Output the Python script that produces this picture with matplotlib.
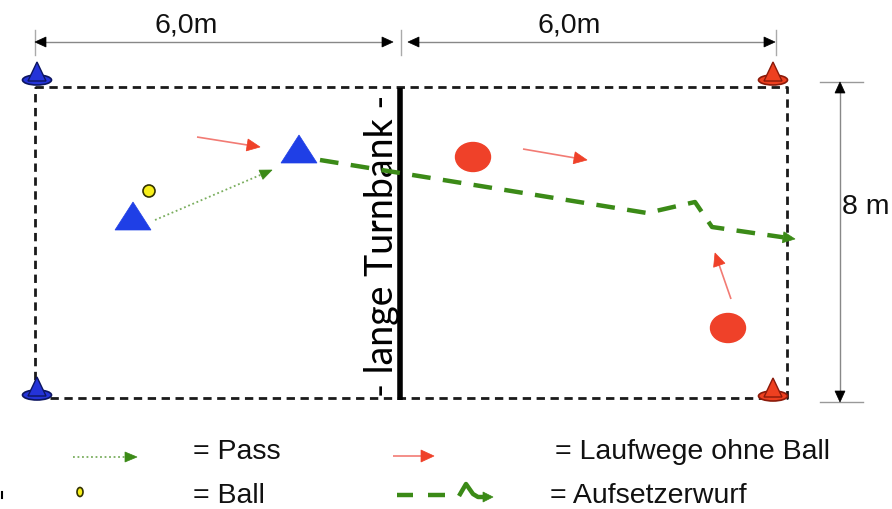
import matplotlib
matplotlib.use("Agg")
import matplotlib.pyplot as plt
from matplotlib.patches import Ellipse, Polygon
import numpy as np

# ---- data (diagram coordinates in pixel units, y downward) ----
field_x = [35, 787]
field_y = [87, 398]
bench_x = 400
bench_y = [88, 400]
bench_label = "- lange Turnbank -"

dim_top_y = 42
dim_top_ticks = [35, 401, 776]
dim_top_segments = [(35, 393), (408, 775)]
dim_top_labels = ["6,0m", "6,0m"]
dim_top_label_x = [186, 569]

dim_right_x = 840
dim_right_y = [82, 402]
dim_right_tick_x = [820, 863]
dim_right_label = "8 m"

blue_cones = [(37, 80), (37, 395)]
red_cones = [(773, 80), (773, 396)]

blue_players = [(133, 216), (299, 149)]
red_players = [(473, 157), (728, 328)]
ball = (149, 191)

pass_path = [(155, 220), (272, 170)]
run_paths = [[(197, 137), (260, 147)],
             [(523, 149), (587, 160)],
             [(731, 299), (715, 253)]]
throw_x = [320, 647, 695, 712, 795]
throw_y = [160, 213, 202, 227, 239]

legend_texts = ["= Pass", "= Ball", "= Laufwege ohne Ball", "= Aufsetzerwurf"]
legend_text_pos = [(193, 452), (193, 496), (555, 452), (550, 496)]
legend_pass = [(73, 457), (137, 457)]
legend_run = [(393, 456), (434, 456)]
legend_ball = (80, 492)
legend_throw_x = [397, 413, 428, 445, 459, 466, 473, 478, 493]
legend_throw_y = [495, 495, 495, 495, 496, 484, 494, 497, 497]

# ---- colours ----
BLUE = "#1f3fe6"
RED = "#ef4129"
RED_LINE = "#f27b74"
GREEN = "#3b8a17"
PASS_GREEN = "#7aae5e"
YELLOW = "#f7ef1a"

W, H = 892, 509
fig = plt.figure(figsize=(W / 100, H / 100), dpi=100)
ax = fig.add_axes([0, 0, 1, 1])
ax.set_xlim(0, W)
ax.set_ylim(H, 0)
ax.axis("off")


def head(tip, tail, length, width, color, z=6):
    tip = np.asarray(tip, float)
    d = tip - np.asarray(tail, float)
    d /= np.hypot(*d)
    n = np.array([-d[1], d[0]])
    base = tip - d * length
    ax.add_patch(Polygon([tip, base + n * width / 2, base - n * width / 2], closed=True,
                         facecolor=color, edgecolor=color, lw=0.5, zorder=z))
    return base


def arrow(p0, p1, line_color, head_color, lw, hl, hw, ls="-", z=6):
    base = head(p1, p0, hl, hw, head_color, z)
    ax.plot([p0[0], base[0] + (p1[0] - base[0]) * 0.2], [p0[1], base[1] + (p1[1] - base[1]) * 0.2],
            color=line_color, lw=lw, linestyle=ls, zorder=z - 0.5, solid_capstyle="butt")


# field
ax.plot([field_x[0], field_x[1], field_x[1], field_x[0], field_x[0]],
        [field_y[0], field_y[0], field_y[1], field_y[1], field_y[0]],
        color="#1a1a1a", lw=2.0, linestyle=(0, (3.0, 2.0)), zorder=2)

# bench
ax.plot([bench_x, bench_x], bench_y, color="black", lw=4, solid_capstyle="butt", zorder=3)
ax.text(382, (bench_y[0] + bench_y[1]) / 2 + 2, bench_label, rotation=90,
        ha="center", va="center", fontsize=27, family="Lato", color="black", zorder=4)

# top dimensions
for tx in dim_top_ticks:
    ax.plot([tx, tx], [30, 55], color="#aaaaaa", lw=1)
for (a, b) in dim_top_segments:
    ax.plot([a + 5, b - 5], [dim_top_y, dim_top_y], color="#888888", lw=1)
    head((b, dim_top_y), (a, dim_top_y), 11, 10, "black")
    head((a, dim_top_y), (b, dim_top_y), 11, 10, "black")
for lx, lab in zip(dim_top_label_x, dim_top_labels):
    ax.text(lx, 25, lab, ha="center", va="center", fontsize=20.5,
            family="Liberation Sans", color="#111111")

# right dimension
for ty in dim_right_y:
    ax.plot(dim_right_tick_x, [ty, ty], color="#999999", lw=1)
ax.plot([dim_right_x, dim_right_x], [dim_right_y[0] + 5, dim_right_y[1] - 5], color="#888888", lw=1)
head((dim_right_x, dim_right_y[0]), (dim_right_x, dim_right_y[1]), 11, 10, "black")
head((dim_right_x, dim_right_y[1]), (dim_right_x, dim_right_y[0]), 11, 10, "black")
ax.text(842, 207, dim_right_label, ha="left", va="center", fontsize=20.5,
        family="Liberation Sans", color="#111111")


def cone(x, y, face, edge):
    ax.add_patch(Ellipse((x, y), 29, 10, facecolor=face, edgecolor=edge, lw=1.2, zorder=5))
    ax.add_patch(Polygon([(x - 9, y + 1), (x + 9, y + 1), (x, y - 18)], closed=True,
                         facecolor=face, edgecolor=edge, lw=1.0, zorder=6))


for (x, y) in blue_cones:
    cone(x, y, "#2433d8", "#0c1560")
for (x, y) in red_cones:
    cone(x, y, "#ee4020", "#8a1a0a")

# players
for (x, y) in blue_players:
    ax.add_patch(Polygon([(x - 18, y + 14), (x + 18, y + 14), (x, y - 14)], closed=True,
                         facecolor=BLUE, edgecolor=BLUE, lw=0.5, zorder=6))
for (x, y) in red_players:
    ax.add_patch(Ellipse((x, y), 35, 29, facecolor=RED, edgecolor=RED, zorder=6))

ax.add_patch(Ellipse(ball, 12, 12, facecolor=YELLOW, edgecolor="#333300", lw=1.2, zorder=6))

# pass
arrow(pass_path[0], pass_path[1], PASS_GREEN, GREEN, 1.3, 12, 10, ls=(0, (1, 1.5)))

# runs
for p in run_paths:
    arrow(p[0], p[1], RED_LINE, RED, 1.2, 13, 12)

# throw path
tb = head((throw_x[-1], throw_y[-1]), (throw_x[-2], throw_y[-2]), 12, 11, GREEN, z=7)
ax.plot(throw_x[:-1] + [tb[0]], throw_y[:-1] + [tb[1]],
        color=GREEN, lw=3.2, linestyle=(0, (4.2, 2.8)), zorder=7)

# legend
arrow(legend_pass[0], legend_pass[1], PASS_GREEN, GREEN, 1.3, 12, 10, ls=(0, (1, 1.5)))
arrow(legend_run[0], legend_run[1], RED_LINE, RED, 1.2, 13, 12)
ax.add_patch(Ellipse(legend_ball, 6, 9, facecolor=YELLOW, edgecolor="#333300", lw=1.2))
ax.plot(legend_throw_x[0:2], legend_throw_y[0:2], color=GREEN, lw=3.2, solid_capstyle="butt")
ax.plot(legend_throw_x[2:4], legend_throw_y[2:4], color=GREEN, lw=3.2, solid_capstyle="butt")
lb = head((legend_throw_x[-1], legend_throw_y[-1]), (legend_throw_x[-2], legend_throw_y[-2]),
          10, 10, GREEN)
ax.plot(legend_throw_x[4:-1] + [lb[0]], legend_throw_y[4:-1] + [lb[1]], color=GREEN, lw=3.2,
        solid_joinstyle="round", solid_capstyle="butt")
for (x, y), t in zip(legend_text_pos, legend_texts):
    ax.text(x, y, t, ha="left", va="center", fontsize=20.5,
            family="Liberation Sans", color="#111111")

ax.plot([1.5, 1.5], [492, 498], color="black", lw=1.5)

fig.savefig("out.png", dpi=100)
